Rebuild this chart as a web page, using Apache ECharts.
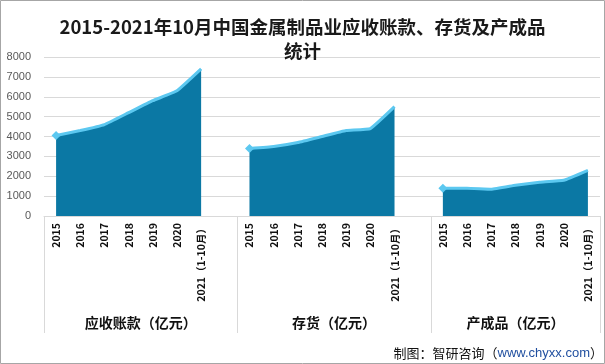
<!DOCTYPE html>
<html><head><meta charset="utf-8">
<script src="https://cdn.jsdelivr.net/npm/echarts@6/dist/echarts.min.js"></script>
<style>html,body{margin:0;padding:0;background:#fff}#c{width:605px;height:364px}</style>
</head><body><div id="c"></div>
<script>
const years = ['2015','2016','2017','2018','2019','2020','2021（1-10月）'];
const groups = ['应收账款（亿元）','存货（亿元）','产成品（亿元）'];
const receivables = [4050,4300,4600,5200,5800,6300,7400];
const inventory = [3400,3500,3700,4000,4300,4400,5500];
const finished = [1400,1400,1350,1550,1700,1800,2300];
const yTicks = [0,1000,2000,3000,4000,5000,6000,7000,8000];

const seriesVals = [receivables, inventory, finished];
const xData = [];
const groupStart = [];
for (let g = 0; g < 3; g++) {
  groupStart.push(xData.length);
  years.forEach(y => xData.push(y));
  if (g < 2) xData.push('');
}
const N = xData.length;

function buildData(g) {
  const arr = new Array(N).fill(null);
  seriesVals[g].forEach((v, i) => {
    const idx = groupStart[g] + i;
    if (i === 0) arr[idx] = {value: v, symbol: 'diamond', symbolSize: 9};
    else arr[idx] = {value: v, symbol: 'none'};
  });
  return arr;
}

const chart = echarts.init(document.getElementById('c'));
const series = groups.map((name, g) => ({
  name, type: 'line', data: buildData(g), smooth: 0.1,
  showSymbol: true, symbol: 'none',
  itemStyle: {color: '#5cc8f0'},
  lineStyle: {color: '#5cc8f0', width: 3},
  areaStyle: {color: '#0b78a4', opacity: 1},
  connectNulls: false, animation: false, z: 3
}));

chart.setOption({
  animation: false,
  title: {
    text: '2015-2021年10月中国金属制品业应收账款、存货及产成品\n统计',
    left: 'center', top: 10,
    textStyle: {fontFamily: 'Noto Sans CJK SC', fontWeight: 'bold', fontSize: 18.5, color: '#1a1a1a', lineHeight: 24}
  },
  grid: {left: 44, right: 5, top: 57, bottom: 148},
  xAxis: {
    type: 'category', data: xData, boundaryGap: true,
    axisLine: {lineStyle: {color: '#d9d9d9'}},
    axisTick: {show: true, length: 117, interval: (i) => groupStart.includes(i), lineStyle: {color: '#d9d9d9'}},
    axisLabel: {interval: 0, rotate: 90, margin: 7, fontSize: 10.5, fontWeight: 'bold', color: '#111', fontFamily: 'Noto Sans CJK SC'}
  },
  yAxis: {
    type: 'value', min: yTicks[0], max: yTicks[yTicks.length-1], interval: 1000,
    axisLine: {show: false}, axisTick: {show: false},
    axisLabel: {fontSize: 11, color: '#595959', margin: 13, fontFamily: 'Liberation Sans', formatter: (v) => String(v)},
    splitLine: {lineStyle: {color: '#d9d9d9'}}
  },
  series
});

function px(i) { return chart.convertToPixel({xAxisIndex: 0}, i); }
const w = px(1) - px(0);
const bounds = [groupStart[0], groupStart[1], groupStart[2]].map(i => px(i) - w/2);
bounds.push(px(N-1) + w/2);
const gfx = groups.map((t, g) => ({
  type: 'text',
  x: (bounds[g] + bounds[g+1]) / 2, y: 323,
  style: {text: t, fill: '#111', font: 'bold 14px "Noto Sans CJK SC"', textAlign: 'center', textVerticalAlign: 'middle'}
}));
gfx.push({
  type: 'text', x: 603, y: 353,
  style: {
    text: '制图：智研咨询（{b|www.chyxx.com}）',
    rich: {b: {fill: '#1f4e9f', fontSize: 13, fontFamily: 'Liberation Sans'}},
    fill: '#111', font: '13px "Noto Sans CJK SC"', textAlign: 'right', textVerticalAlign: 'middle'
  }
});
gfx.push({type: 'rect', shape: {x: 0.5, y: 0.5, width: 604, height: 363}, style: {fill: 'none', stroke: '#a6a6a6', lineWidth: 1}, silent: true});
chart.setOption({graphic: gfx});
</script></body></html>
